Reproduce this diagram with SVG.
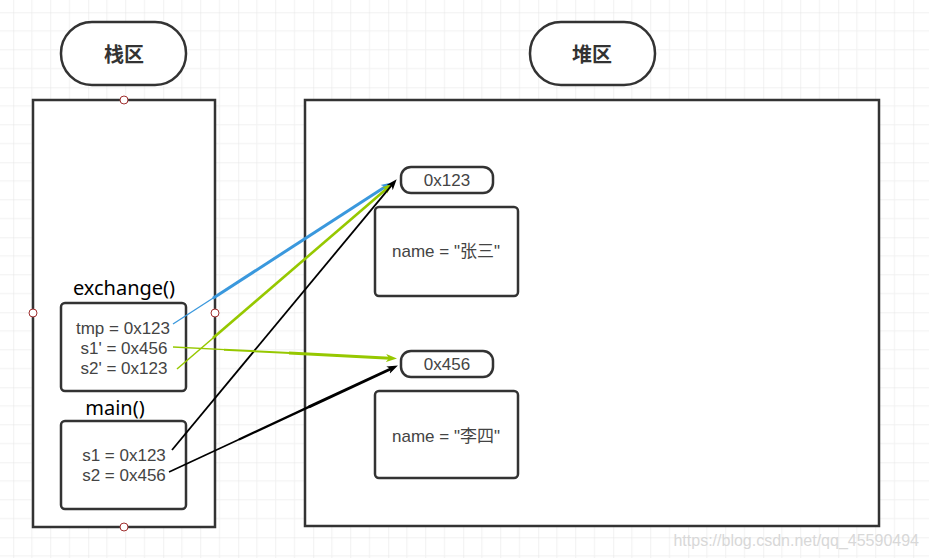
<svg xmlns="http://www.w3.org/2000/svg" width="929" height="558" viewBox="0 0 929 558">
<style>
.box{fill:#fff;stroke:#333;stroke-width:2.5}
.pill{fill:#fff;stroke:#333;stroke-width:2.5}
.t{font-family:"Liberation Sans","Noto Sans CJK SC",sans-serif;font-size:17px;fill:#444;text-anchor:middle;dominant-baseline:central}
.h{font-family:"Noto Sans","Noto Sans CJK SC",sans-serif;font-size:20px;fill:#333;font-weight:bold;text-anchor:middle;dominant-baseline:central}
.lab{font-family:"Noto Sans","Noto Sans CJK SC",sans-serif;font-size:20px;fill:#000;text-anchor:middle;dominant-baseline:central}
.pt{fill:#fff;stroke:#a03030;stroke-width:1}
.blue{stroke:#3a98dd;fill:none}
.green{stroke:#96c800;fill:none}
.black{stroke:#000;fill:none}
</style>
<defs>
<pattern id="grid" x="13.2" y="12.3" width="75" height="75" patternUnits="userSpaceOnUse">
<path d="M18.75,0V75M37.5,0V75M56.25,0V75M0,18.75H75M0,37.5H75M0,56.25H75" stroke="#f1f1f1" stroke-width="1" fill="none"/>
<path d="M0,0V75M0,0H75" stroke="#e4e4e4" stroke-width="1" fill="none"/>
</pattern>
<marker id="aB" markerWidth="11" markerHeight="9" refX="4" refY="4.5" orient="auto" markerUnits="userSpaceOnUse"><path d="M0,0.5L11,4.5L0,8.5L3,4.5z" fill="#3a98dd"/></marker>
<marker id="aG" markerWidth="11" markerHeight="9" refX="4" refY="4.5" orient="auto" markerUnits="userSpaceOnUse"><path d="M0,0.5L11,4.5L0,8.5L3,4.5z" fill="#96c800"/></marker>
<marker id="aK" markerWidth="11" markerHeight="9" refX="4" refY="4.5" orient="auto" markerUnits="userSpaceOnUse"><path d="M0,0.5L11,4.5L0,8.5L3,4.5z" fill="#000"/></marker>
</defs>
<rect width="929" height="558" fill="#fff"/>
<rect width="929" height="558" fill="url(#grid)"/>

<g id="stack-title"><rect class="pill" x="61" y="22" width="125" height="63" rx="31" ry="31"/><text class="h" x="124" y="54">栈区</text></g>
<g id="heap-title"><rect class="pill" x="530" y="22" width="125" height="63" rx="31" ry="31"/><text class="h" x="592" y="54">堆区</text></g>

<g id="stack"><rect class="box" x="33" y="100" width="182" height="427"/></g>
<g id="heap"><rect class="box" x="305" y="100" width="574" height="426"/></g>

<g id="exchange-frame">
<text class="lab" x="124" y="287">exchange()</text>
<rect class="box" x="61" y="303" width="125" height="88" rx="4"/>
<text class="t" x="123" y="328">tmp = 0x123</text>
<text class="t" x="124" y="348">s1' = 0x456</text>
<text class="t" x="124" y="368">s2' = 0x123</text>
</g>
<g id="main-frame">
<text class="lab" x="115" y="407">main()</text>
<rect class="box" x="61" y="421" width="125" height="88" rx="4"/>
<text class="t" x="124" y="455">s1 = 0x123</text>
<text class="t" x="124" y="475">s2 = 0x456</text>
</g>

<g id="addr-123"><rect class="pill" x="401" y="167" width="92" height="26" rx="10" ry="10"/><text class="t" x="447" y="180">0x123</text></g>
<g id="obj-zhangsan"><rect class="box" x="375" y="207" width="143" height="89" rx="4"/><text class="t" x="446" y="251">name = "张三"</text></g>
<g id="addr-456"><rect class="pill" x="401" y="351" width="92" height="26" rx="10" ry="10"/><text class="t" x="447" y="364">0x456</text></g>
<g id="obj-lisi"><rect class="box" x="375" y="391" width="143" height="87" rx="4"/><text class="t" x="446" y="436">name = "李四"</text></g>

<g id="points">
<circle class="pt" cx="124" cy="100" r="4"/>
<circle class="pt" cx="33" cy="313" r="4"/>
<circle class="pt" cx="215" cy="313" r="4"/>
<circle class="pt" cx="124" cy="527" r="4"/>
</g>

<g id="connectors">
<g id="c-tmp"><line class="blue" x1="173" y1="324" x2="214" y2="297.5" stroke-width="1.3"/><line class="blue" x1="213" y1="298.2" x2="386" y2="186.3" stroke-width="3" marker-end="url(#aB)"/></g>
<g id="c-s2p"><line class="green" x1="177" y1="369" x2="214" y2="337.2" stroke-width="1.5"/><line class="green" x1="213" y1="338" x2="387.5" y2="187.9" stroke-width="2.6" marker-end="url(#aG)"/></g>
<g id="c-s1"><line class="black" x1="172" y1="450" x2="392.2" y2="184.6" stroke-width="1.8" marker-end="url(#aK)"/></g>
<g id="c-s1p"><line class="green" x1="173" y1="347" x2="225" y2="349.7" stroke-width="1.3"/><line class="green" x1="224" y1="349.65" x2="290" y2="353.05" stroke-width="2"/><line class="green" x1="289" y1="353" x2="390" y2="358.2" stroke-width="3" marker-end="url(#aG)"/></g>
<g id="c-s2"><line class="black" x1="169" y1="472" x2="240" y2="439" stroke-width="1.6"/><line class="black" x1="239" y1="439.5" x2="310" y2="406.4" stroke-width="2.3"/><line class="black" x1="309" y1="406.9" x2="391.6" y2="368.5" stroke-width="3" marker-end="url(#aK)"/></g>
</g>

<text x="919" y="540" font-family="Liberation Sans, Arial, sans-serif" font-size="16" fill="#d8d8d8" text-anchor="end" dominant-baseline="central">https://blog.csdn.net/qq_45590494</text>
</svg>
